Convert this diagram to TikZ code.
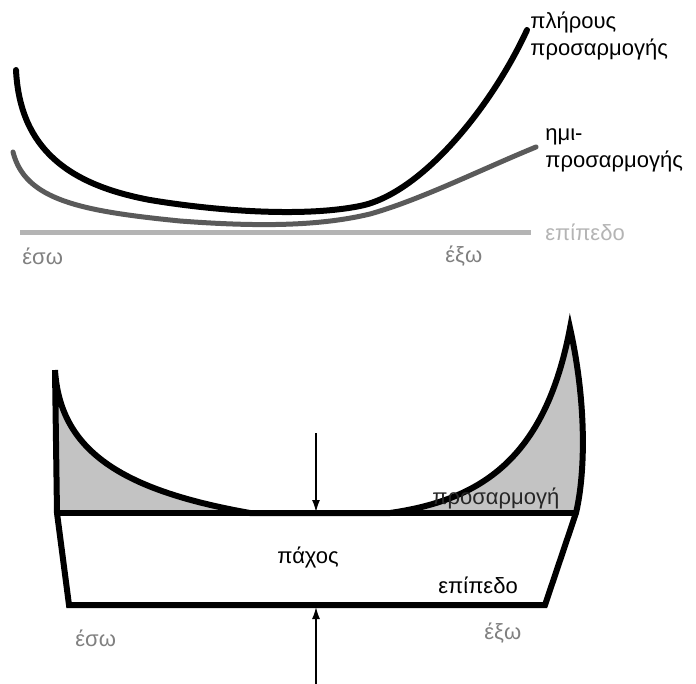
\documentclass[tikz,border=0pt]{standalone}
\usepackage{fontspec}
\setmainfont{Liberation Sans}
\usepackage{tikz}
\usetikzlibrary{arrows.meta}
\definecolor{fullcol}{RGB}{0,0,0}
\definecolor{halfcol}{RGB}{90,90,90}
\definecolor{flatcol}{RGB}{180,180,180}
\definecolor{sidecol}{RGB}{128,128,128}
\definecolor{fitfill}{RGB}{195,195,195}
\tikzset{
  fullfit/.style={draw=fullcol, line width=3pt, line cap=round},
  halffit/.style={draw=halfcol, line width=2.5pt, line cap=round},
  flatline/.style={draw=flatcol, line width=2.5pt},
  outline/.style={draw=black, line width=3pt},
  lbl/.style={inner sep=0pt, anchor=west, align=left,
    font=\fontsize{11}{13.5}\selectfont},
  sidelbl/.style={lbl, text=sidecol},
  arrowline/.style={-{Latex[length=6pt,width=4pt]}, line width=0.7pt}
}
\begin{document}
\begin{tikzpicture}[x=0.5pt, y=-0.5pt]
  \useasboundingbox (0,0) rectangle (696,684);

  % upper sketch: fits against the flat level
  \draw[flatline] (20,233) -- (531,233);
  \draw[halffit] (13,152) .. controls (25,200) and (80,211) .. (180,221)
    .. controls (260,227) and (320,226) .. (370,214)
    .. controls (420,200) and (480,170) .. (536,147);
  \draw[fullfit] (16,70) .. controls (20,150) and (70,185) .. (150,200)
    .. controls (210,210) and (300,218) .. (360,206)
    .. controls (420,194) and (490,110) .. (527,30);

  \node[lbl] (full) at (530,36) {πλήρους\\προσαρμογής};
  \node[lbl] (half) at (545,150) {ημι-\\προσαρμογής};
  \node[lbl, text=flatcol] (flat) at (545,232) {επίπεδο};
  \node[sidelbl] (inTop) at (22,256) {έσω};
  \node[sidelbl] (outTop) at (445,256) {έξω};

  % lower sketch: ski cross-section
  \fill[fitfill] (55,370) .. controls (60,450) and (120,490) .. (250,513)
    -- (390,513) .. controls (480,500) and (545,460) .. (570,328)
    .. controls (586,400) and (586,470) .. (576,513)
    -- (57,513) -- cycle;
  \draw[outline] (55,370) .. controls (60,450) and (120,490) .. (250,513)
    -- (390,513) .. controls (480,500) and (545,460) .. (570,328)
    .. controls (586,400) and (586,470) .. (576,513)
    -- (545,605) -- (69,605) -- (57,513) -- (55,370);
  \draw[outline] (57,513) -- (576,513);

  \node[lbl, text=black!85] (fit) at (432,498) {προσαρμογή};
  \node[lbl] (thick) at (277,557) {πάχος};
  \node[lbl] (base) at (438,585) {επίπεδο};
  \node[sidelbl] (inBot) at (75,638) {έσω};
  \node[sidelbl] (outBot) at (484,633) {έξω};

  \coordinate (topA) at (316,433);
  \coordinate (topB) at (316,512);
  \coordinate (botA) at (316,684);
  \coordinate (botB) at (316,607);
  \draw[arrowline] (topA) -- (topB);
  \draw[arrowline] (botA) -- (botB);
\end{tikzpicture}
\end{document}
